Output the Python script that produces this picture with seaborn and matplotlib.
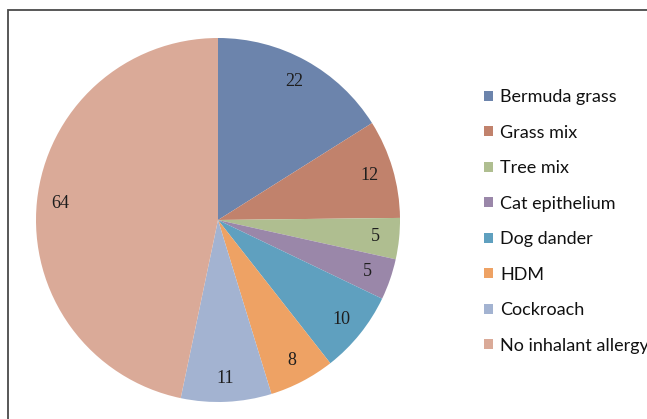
import matplotlib
matplotlib.use("Agg")
import matplotlib.pyplot as plt
from matplotlib.patches import Rectangle, Patch
import seaborn as sns

categories = ["Bermuda grass", "Grass mix", "Tree mix", "Cat epithelium",
              "Dog dander", "HDM", "Cockroach", "No inhalant allergy"]
counts = [22, 12, 5, 5, 10, 8, 11, 64]
colors = ["#6C84AC", "#C1826C", "#AFBE90", "#9A87A9",
          "#5FA0BF", "#EEA264", "#A3B3D1", "#DAAA98"]

sns.set_theme(style="white")
palette = sns.color_palette(colors)

W, H = 647, 419
fig = plt.figure(figsize=(W / 100, H / 100), dpi=100)
fig.patch.set_facecolor("white")

# frame around the chart area
fig.add_artist(Rectangle((8 / W, -0.1), 1.2, (H - 10) / H + 0.1,
                         transform=fig.transFigure, fill=False,
                         edgecolor="#4a4a4a", linewidth=1.3))

cx, cy, r = 218, 220, 182
ax = fig.add_axes([(cx - r) / W, (H - cy - r) / H, 2 * r / W, 2 * r / H])
wedges, texts = ax.pie(counts, colors=palette, startangle=90, counterclock=False,
                       labels=[str(c) for c in counts], labeldistance=0.87,
                       radius=1.0, wedgeprops=dict(linewidth=0),
                       textprops=dict(family="Liberation Serif", fontsize=13,
                                      color="#1e1e1e"))
for t in texts:
    t.set_horizontalalignment("center")
    t.set_verticalalignment("center")
ax.set_xlim(-1, 1)
ax.set_ylim(-1, 1)
ax.set_aspect("equal")
ax.axis("off")

handles = [Patch(facecolor=c, edgecolor="none") for c in palette]
fig.legend(handles, categories, loc="upper left",
           bbox_to_anchor=(477 / W, (H - 82) / H), frameon=False,
           prop=dict(family="Lato", size=13),
           labelcolor="#111111",
           handlelength=0.5, handleheight=0.5, handletextpad=0.4,
           labelspacing=1.08, borderaxespad=0)

fig.savefig("out.png", dpi=100)
